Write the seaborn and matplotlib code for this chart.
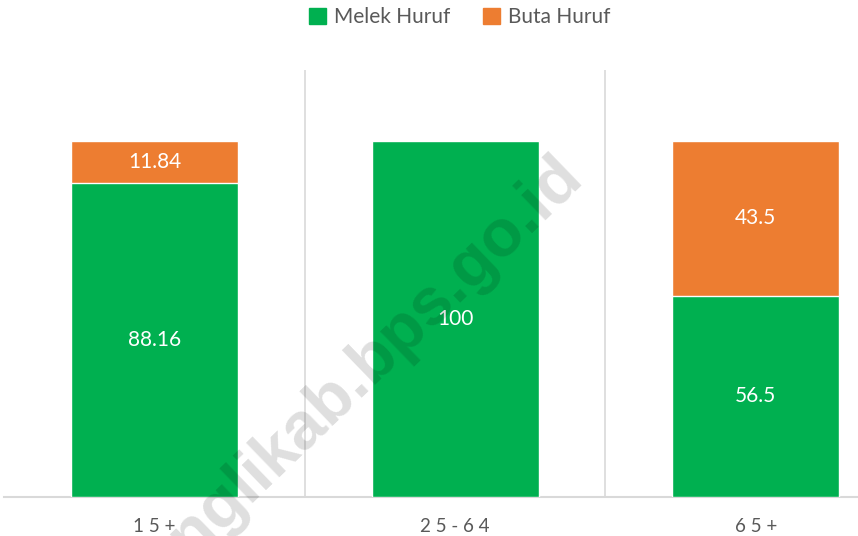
import matplotlib
matplotlib.use('Agg')
import matplotlib.pyplot as plt
import seaborn as sns
import pandas as pd
from matplotlib.patches import Patch

# ── data ─────────────────────────────────────────────
kelompok_umur = ['15+', '25-64', '65+']
melek_huruf   = [88.16, 100, 56.5]
buta_huruf    = [11.84, 0, 43.5]

GREEN  = '#00B050'
ORANGE = '#ED7D31'
GREY_T = '#595959'
LINE   = '#D9D9D9'

df = pd.DataFrame({'umur': kelompok_umur,
                   'melek': melek_huruf,
                   'buta': buta_huruf})
df['total'] = df['melek'] + df['buta']

sns.set_style('white')
plt.rcParams['font.family'] = ['Lato', 'DejaVu Sans']

fig = plt.figure(figsize=(8.58, 5.36), dpi=100)
ax = fig.add_axes([0.005, 0.0728, 0.995, 0.797])

# stacked bars: total (orange) underneath, melek (green) on top
sns.barplot(data=df, x='umur', y='total', color=ORANGE, saturation=1,
            width=0.556, ax=ax, zorder=2)
sns.barplot(data=df, x='umur', y='melek', color=GREEN, saturation=1,
            width=0.556, ax=ax, zorder=3)

ax.set_xlim(-0.5, 2.34)
ax.set_ylim(0, 120)

# category separators
for xs in [0.5, 1.5]:
    ax.axvline(xs, color=LINE, lw=1.2, zorder=1)

# value labels
for i, (m, b) in enumerate(zip(melek_huruf, buta_huruf)):
    ax.text(i, m / 2, f'{m:g}', ha='center', va='center',
            color='white', fontsize=15, zorder=5)
    if b > 0:
        ax.text(i, m + b / 2, f'{b:g}', ha='center', va='center',
                color='white', fontsize=15, zorder=5)

for s in ['top', 'right', 'left']:
    ax.spines[s].set_visible(False)
ax.spines['bottom'].set_color(LINE)
ax.spines['bottom'].set_linewidth(1.5)
ax.set_yticks([])
ax.set_xticks(range(len(kelompok_umur)))
ax.set_xticklabels([' '.join(k) for k in kelompok_umur],
                   fontsize=13.5, color=GREY_T)
ax.tick_params(axis='x', length=0, pad=15)
ax.set_xlabel('')
ax.set_ylabel('')

# legend
handles = [Patch(color=GREEN, label='Melek Huruf'),
           Patch(color=ORANGE, label='Buta Huruf')]
fig.legend(handles=handles, loc='center', bbox_to_anchor=(0.536, 0.968),
           ncol=2, frameon=False, fontsize=15, labelcolor=GREY_T,
           handlelength=0.8, handleheight=0.8, handletextpad=0.4,
           columnspacing=1.6)

# watermark
fig.text(0.419, 0.262, 'banglikab.bps.go.id', fontsize=48,
         fontweight='bold', family='Liberation Sans', color='black',
         alpha=0.13, rotation=44, rotation_mode='anchor',
         ha='center', va='baseline', zorder=10)

fig.savefig('out.png', dpi=100)
